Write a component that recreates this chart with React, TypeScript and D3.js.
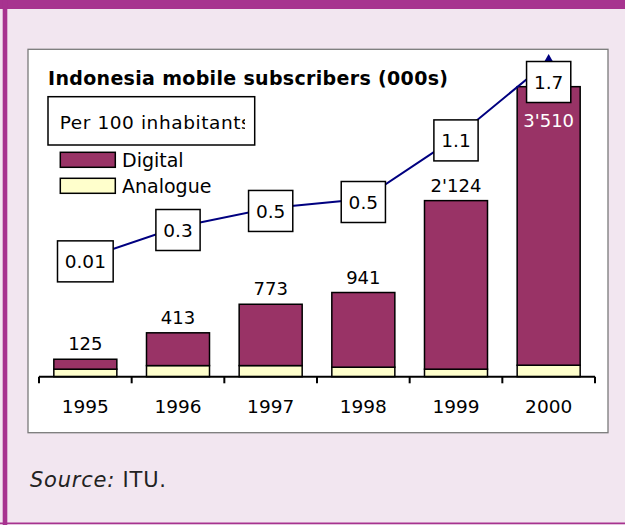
import React from "react";
import * as d3 from "d3";

const years = ["1995", "1996", "1997", "1998", "1999", "2000"];
const digital = [125, 413, 773, 941, 2124, 3510];
const analogue = [95, 140, 140, 120, 95, 145];
const per100 = [0.02, 0.3, 0.47, 0.55, 1.1, 1.78];
const per100Labels = ["0.01", "0.3", "0.5", "0.5", "1.1", "1.7"];

const W = 625;
const H = 525;
const FONT = "'DejaVu Sans', Verdana, sans-serif";
const PURPLE = "#A7338F";
const BG = "#F2E6F0";
const DIGITAL = "#993366";
const ANALOGUE = "#FFFFCC";
const LINE = "#000080";

const fmt = d3.formatLocale({ decimal: ".", thousands: "'", grouping: [3], currency: ["", ""] }).format(",");

function textW(s: string) {
  let w = 0;
  for (const c of s) w += c === "." ? 5.72 : 11.45;
  return w;
}

export default function App() {
  const x = d3.scaleBand<string>().domain(years).range([39, 595]).paddingInner(0.32).paddingOuter(0.16);
  const y = d3.scaleLinear().domain([0, 4000]).range([376.7, 59.3]);
  const y2 = d3.scaleLinear().domain([0, 2]).range([260.6, 36.6]);
  const step = x.step();
  const x0 = 39;
  const stack = d3.stack<any>().keys(["analogue", "digital"])(
    years.map((yr, i) => ({ year: yr, analogue: analogue[i], digital: digital[i] }))
  );
  const cx = (yr: string) => (x(yr) as number) + x.bandwidth() / 2;
  const line = d3
    .line<number>()
    .x((_, i) => cx(years[i]))
    .y((v) => y2(v));
  const diamond = d3.symbol().type(d3.symbolDiamond).size(60)();

  return (
    <svg width={W} height={H} style={{ position: "absolute", left: 0, top: 0 }} fontFamily={FONT}>
      <defs>
        <clipPath id="legclip">
          <rect x={48} y={96.7} width={197} height={48.3} />
        </clipPath>
      </defs>
      <rect x={0} y={0} width={W} height={H} fill={BG} />
      <rect x={0} y={0} width={W} height={9} fill={PURPLE} />
      <rect x={2.7} y={0} width={4.6} height={H} fill={PURPLE} />
      <rect x={0} y={522.5} width={W} height={1.7} fill={PURPLE} />

      <rect x={28} y={49.3} width={580} height={383.4} fill="#fff" stroke="#7a7a7a" strokeWidth={1.3} />

      <text x={48} y={85} fontSize={19} fontWeight="bold" textLength={400} lengthAdjust="spacing" fill="#000">
        Indonesia mobile subscribers (000s)
      </text>

      {/* bars */}
      {stack.map((s, si) =>
        s.map((d, i) => (
          <rect
            key={`${si}-${i}`}
            x={x(years[i])}
            y={y(d[1])}
            width={x.bandwidth()}
            height={y(d[0]) - y(d[1])}
            fill={si === 0 ? ANALOGUE : DIGITAL}
            stroke="#000"
            strokeWidth={1.5}
          />
        ))
      )}

      {/* axis */}
      <line x1={x0} x2={x0 + step * years.length} y1={y(0)} y2={y(0)} stroke="#000" strokeWidth={2} />
      {d3.range(years.length + 1).map((i) => (
        <line key={i} x1={x0 + i * step} x2={x0 + i * step} y1={y(0)} y2={y(0) + 6.6} stroke="#000" strokeWidth={2} />
      ))}
      {years.map((yr) => (
        <text key={yr} x={cx(yr)} y={413.3} fontSize={18.5} textAnchor="middle" fill="#000">
          {yr}
        </text>
      ))}

      {/* value labels */}
      {years.map((yr, i) => {
        const top = y(digital[i] + analogue[i]);
        const inside = top < 120;
        return (
          <text
            key={yr}
            x={cx(yr)}
            y={inside ? top + 40.6 : top - 9}
            fontSize={18}
            textAnchor="middle"
            fill={inside ? "#fff" : "#000"}
          >
            {fmt(digital[i])}
          </text>
        );
      })}

      {/* line */}
      <path d={line(per100) || ""} fill="none" stroke={LINE} strokeWidth={2} />
      {per100.map((v, i) => (
        <path key={i} d={diamond || ""} transform={`translate(${cx(years[i])},${y2(v)})`} fill={LINE} />
      ))}
      {per100.map((v, i) => {
        const bw = textW(per100Labels[i]) + 15.6;
        const bh = 41;
        const c = Math.max(y2(v) + 3, 82);
        return (
          <g key={i}>
            <rect x={cx(years[i]) - bw / 2} y={c - bh / 2} width={bw} height={bh} fill="#fff" stroke="#000" strokeWidth={1.5} />
            <text x={cx(years[i])} y={c + 6.6} fontSize={18.5} textAnchor="middle" fill="#000">
              {per100Labels[i]}
            </text>
          </g>
        );
      })}

      {/* legend */}
      <rect x={48} y={96.7} width={206.7} height={48.3} fill="#fff" stroke="#000" strokeWidth={1.5} />
      <g clipPath="url(#legclip)">
        <text x={59.7} y={129} fontSize={18.5} textLength={191} lengthAdjust="spacing" fill="#000">
          Per 100 inhabitants
        </text>
      </g>
      <rect x={60.3} y={152.3} width={55} height={15} fill={DIGITAL} stroke="#000" strokeWidth={1.5} />
      <text x={122} y={166.5} fontSize={19} fill="#000">Digital</text>
      <rect x={60.3} y={178.3} width={55} height={15} fill={ANALOGUE} stroke="#000" strokeWidth={1.5} />
      <text x={122} y={192.5} fontSize={19} fill="#000">Analogue</text>

      {/* source */}
      <text x={30} y={486.7} fontSize={21} fill="#222" textLength={136} lengthAdjust="spacing">
        <tspan fontStyle="italic">Source:</tspan>
        <tspan> ITU.</tspan>
      </text>
    </svg>
  );
}
